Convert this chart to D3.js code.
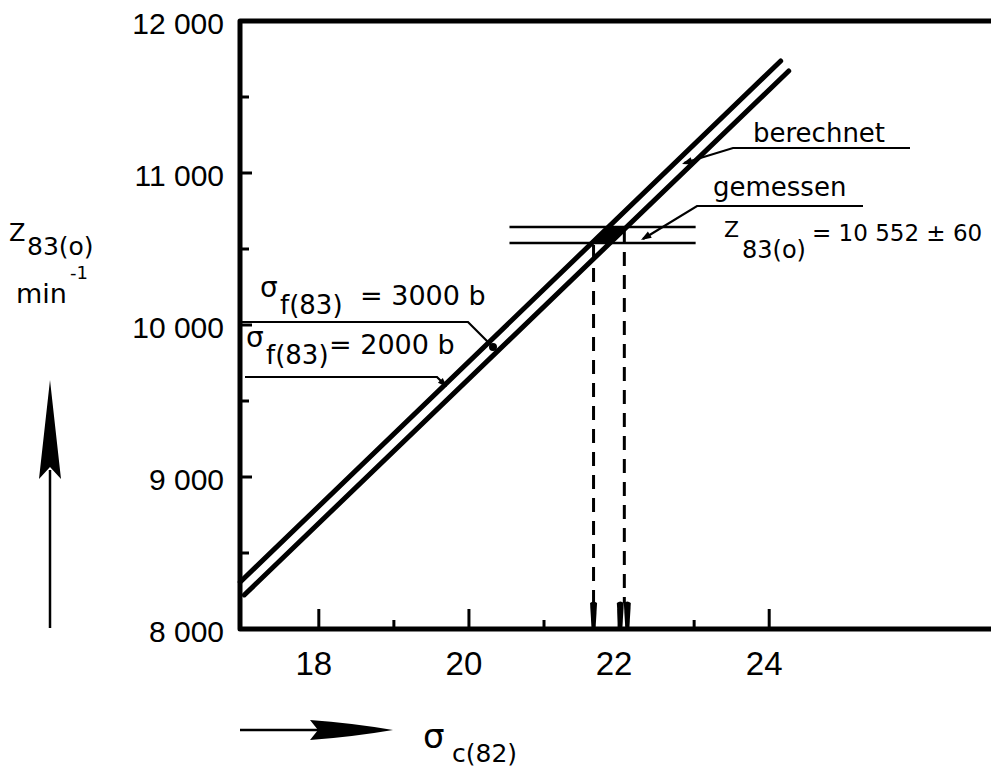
<!DOCTYPE html>
<html>
<head>
<meta charset="utf-8">
<script src="https://cdn.jsdelivr.net/npm/d3@7"></script>
<style>
  html, body { margin: 0; padding: 0; background: #fff; }
  svg { display: block; }
</style>
</head>
<body>
<div id="chart"></div>
<script>
// Data
const xTicks = [18, 19, 20, 21, 22, 23, 24];
const xTickLabels = [18, 20, 22, 24];
const yTicks = [8500, 9000, 9500, 10000, 10500, 11000, 11500];
const yTickLabels = [8000, 9000, 10000, 11000, 12000];

// two calculated lines (sigma_c(82), Z83(o))
const line2000 = [{ x: 16.953, y: 8309 }, { x: 24.153, y: 11737 }];
const line3000 = [{ x: 17.007, y: 8224 }, { x: 24.26, y: 11671 }];

// measured band and its sigma range
const measuredBand = [10540, 10645];
const measuredBandX = [20.54, 23.02];
const sigmaRange = [21.66, 22.07];

// Dimensions
const W = 991, H = 768;
const frame = { left: 240, top: 21, bottom: 629 };

const svg = d3.select("#chart").append("svg")
    .attr("width", W)
    .attr("height", H);

// Scales
const x = d3.scaleLinear().domain([16.95, 24]).range([frame.left, 769.2]);
const y = d3.scaleLinear().domain([8000, 12000]).range([frame.bottom, frame.top]);

const font = "'DejaVu Sans', sans-serif";
const tickFont = "'Liberation Sans', Arial, sans-serif";

// Frame (open on the right, runs off the page)
svg.append("path")
    .attr("d", `M${W + 10},${frame.top} L${frame.left},${frame.top} L${frame.left},${frame.bottom} L${W + 10},${frame.bottom}`)
    .attr("fill", "none")
    .attr("stroke", "#000")
    .attr("stroke-width", 5)
    .attr("stroke-linejoin", "round");

// X ticks (inside, up from bottom)
svg.append("g").selectAll("line")
    .data(xTicks)
    .enter().append("line")
    .attr("x1", d => x(d)).attr("x2", d => x(d))
    .attr("y1", frame.bottom)
    .attr("y2", d => frame.bottom - (d % 2 === 0 ? 20 : 9))
    .attr("stroke", "#000")
    .attr("stroke-width", 3);

svg.append("g").selectAll("text")
    .data(xTickLabels)
    .enter().append("text")
    .attr("x", d => x(d) - 5)
    .attr("y", 675)
    .attr("text-anchor", "middle")
    .style("font-family", "'Liberation Sans Narrow', " + tickFont)
    .style("font-size", "33px")
    .text(d => d);

// Y ticks (inside, right from left axis)
svg.append("g").selectAll("line")
    .data(yTicks)
    .enter().append("line")
    .attr("x1", frame.left)
    .attr("x2", d => frame.left + (d % 1000 === 0 ? 12 : 9))
    .attr("y1", d => y(d)).attr("y2", d => y(d))
    .attr("stroke", "#000")
    .attr("stroke-width", 3);

const fmt = v => d3.format(",")(v).replace(/,/g, " ");
svg.append("g").selectAll("text")
    .data(yTickLabels)
    .enter().append("text")
    .attr("x", 224)
    .attr("y", d => y(d) + 2)
    .attr("dy", "0.35em")
    .attr("text-anchor", "end")
    .style("font-family", tickFont)
    .style("font-size", "30px")
    .text(d => fmt(d));

// Helper: sigma on a line at a given Z
const xAt = (ln, z) => ln[0].x + (z - ln[0].y) * (ln[1].x - ln[0].x) / (ln[1].y - ln[0].y);

// Filled crossing of lines and measured band
const blob = [
    [xAt(line2000, measuredBand[0]), measuredBand[0]],
    [xAt(line3000, measuredBand[0]), measuredBand[0]],
    [xAt(line3000, measuredBand[1]), measuredBand[1]],
    [xAt(line2000, measuredBand[1]), measuredBand[1]]
];
svg.append("path")
    .attr("d", d3.line().x(d => x(d[0])).y(d => y(d[1]))(blob) + "Z")
    .attr("fill", "#000");

// Measured band lines
svg.append("g").selectAll("line")
    .data(measuredBand)
    .enter().append("line")
    .attr("x1", x(measuredBandX[0])).attr("x2", x(measuredBandX[1]))
    .attr("y1", d => y(d)).attr("y2", d => y(d))
    .attr("stroke", "#000")
    .attr("stroke-width", 2.5);

// Calculated lines
const lineGen = d3.line().x(d => x(d.x)).y(d => y(d.y));
svg.append("g").selectAll("path")
    .data([line2000, line3000])
    .enter().append("path")
    .attr("d", d => lineGen(d))
    .attr("fill", "none")
    .attr("stroke", "#000")
    .attr("stroke-width", 5)
    .attr("stroke-linecap", "round");

// Dashed drops to the sigma axis
const arrowTop = 603;
svg.append("g").selectAll("line")
    .data(sigmaRange)
    .enter().append("line")
    .attr("x1", d => x(d)).attr("x2", d => x(d))
    .attr("y1", (d, i) => y(measuredBand[i]) + 2)
    .attr("y2", arrowTop)
    .attr("stroke", "#000")
    .attr("stroke-width", 3)
    .attr("stroke-dasharray", "14,9");

const downArrow = cx => `M${cx - 3.5},${arrowTop} Q${cx},${arrowTop - 3} ${cx + 3.5},${arrowTop} L${cx + 2},${frame.bottom} L${cx - 2},${frame.bottom} Z`;
svg.append("path").attr("d", downArrow(x(sigmaRange[0]))).attr("fill", "#000");
svg.append("path").attr("d", downArrow(x(sigmaRange[1]) - 4)).attr("fill", "#000");
svg.append("path").attr("d", downArrow(x(sigmaRange[1]) + 3)).attr("fill", "#000");

// Annotation helpers
const stroke = sel => sel.attr("fill", "none").attr("stroke", "#000").attr("stroke-width", 2.2);
function arrowHead(tip, from, size) {
    const a = Math.atan2(tip[1] - from[1], tip[0] - from[0]);
    const p1 = [tip[0] - size * Math.cos(a - 0.35), tip[1] - size * Math.sin(a - 0.35)];
    const p2 = [tip[0] - size * Math.cos(a + 0.35), tip[1] - size * Math.sin(a + 0.35)];
    svg.append("path").attr("d", `M${tip}L${p1}L${p2}Z`).attr("fill", "#000");
}

// berechnet
svg.append("path").attr("d", "M910,148 L733,148 L684,163").call(stroke);
arrowHead([682, 164], [733, 148], 11);
svg.append("text").attr("x", 753).attr("y", 142)
    .style("font-family", font).style("font-size", "26px").text("berechnet");

// gemessen
svg.append("path").attr("d", "M863,206 L697,206 L643,239").call(stroke);
arrowHead([641, 240], [697, 206], 11);
svg.append("text").attr("x", 713).attr("y", 196)
    .style("font-family", font).style("font-size", "26px").text("gemessen");

// Z83(o) = 10 552 ± 60
svg.append("text").attr("x", 724).attr("y", 237)
    .style("font-family", font).style("font-size", "22px").text("Z");
svg.append("text").attr("x", 742).attr("y", 258)
    .style("font-family", font).style("font-size", "24px").text("83(o)");
svg.append("text").attr("x", 812).attr("y", 241)
    .style("font-family", font).style("font-size", "23px").text("= 10 552 ± 60");

// sigma_f(83) = 3000 b  (leader ends on the lower line)
svg.append("path").attr("d", "M240,322 L468,322 L493,347").call(stroke);
svg.append("circle").attr("cx", 493).attr("cy", 347).attr("r", 4).attr("fill", "#000");
svg.append("text").attr("x", 260).attr("y", 297)
    .style("font-family", font).style("font-size", "28px").text("σ");
svg.append("text").attr("x", 280).attr("y", 314)
    .style("font-family", font).style("font-size", "26px").text("f(83)");
svg.append("text").attr("x", 360).attr("y", 305)
    .style("font-family", font).style("font-size", "27px").text("= 3000 b");

// sigma_f(83) = 2000 b  (arrow to the upper line)
svg.append("path").attr("d", "M245,377 L437,377 L444,384").call(stroke);
arrowHead([447, 387], [437, 377], 10);
svg.append("text").attr("x", 246).attr("y", 347)
    .style("font-family", font).style("font-size", "28px").text("σ");
svg.append("text").attr("x", 266).attr("y", 364)
    .style("font-family", font).style("font-size", "26px").text("f(83)");
svg.append("text").attr("x", 329).attr("y", 354)
    .style("font-family", font).style("font-size", "27px").text("= 2000 b");

// Y axis title
svg.append("text").attr("x", 9).attr("y", 241)
    .style("font-family", font).style("font-size", "24px").text("Z");
svg.append("text").attr("x", 27).attr("y", 255)
    .style("font-family", font).style("font-size", "25px").text("83(o)");
svg.append("text").attr("x", 16).attr("y", 303)
    .style("font-family", font).style("font-size", "27px")
    .text("min")
    .append("tspan").attr("dx", 3).attr("dy", -24).style("font-size", "18px").text("-1");

// Vertical arrow
svg.append("line").attr("x1", 50).attr("x2", 50).attr("y1", 470).attr("y2", 628)
    .attr("stroke", "#000").attr("stroke-width", 2.5);
svg.append("path")
    .attr("d", "M50,380 Q55,425 61,479 L50,467 L39,479 Q45,425 50,380 Z")
    .attr("fill", "#000");

// Horizontal arrow + sigma_c(82)
svg.append("line").attr("x1", 240).attr("x2", 320).attr("y1", 730).attr("y2", 730)
    .attr("stroke", "#000").attr("stroke-width", 2.5);
svg.append("path")
    .attr("d", "M393,730 Q352,737 310,740 L318,730 L310,720 Q352,723 393,730 Z")
    .attr("fill", "#000");
svg.append("text").attr("x", 423).attr("y", 748)
    .style("font-family", font).style("font-size", "34px").text("σ");
svg.append("text").attr("x", 452).attr("y", 762)
    .style("font-family", font).style("font-size", "25px").text("c(82)");
</script>
</body>
</html>
